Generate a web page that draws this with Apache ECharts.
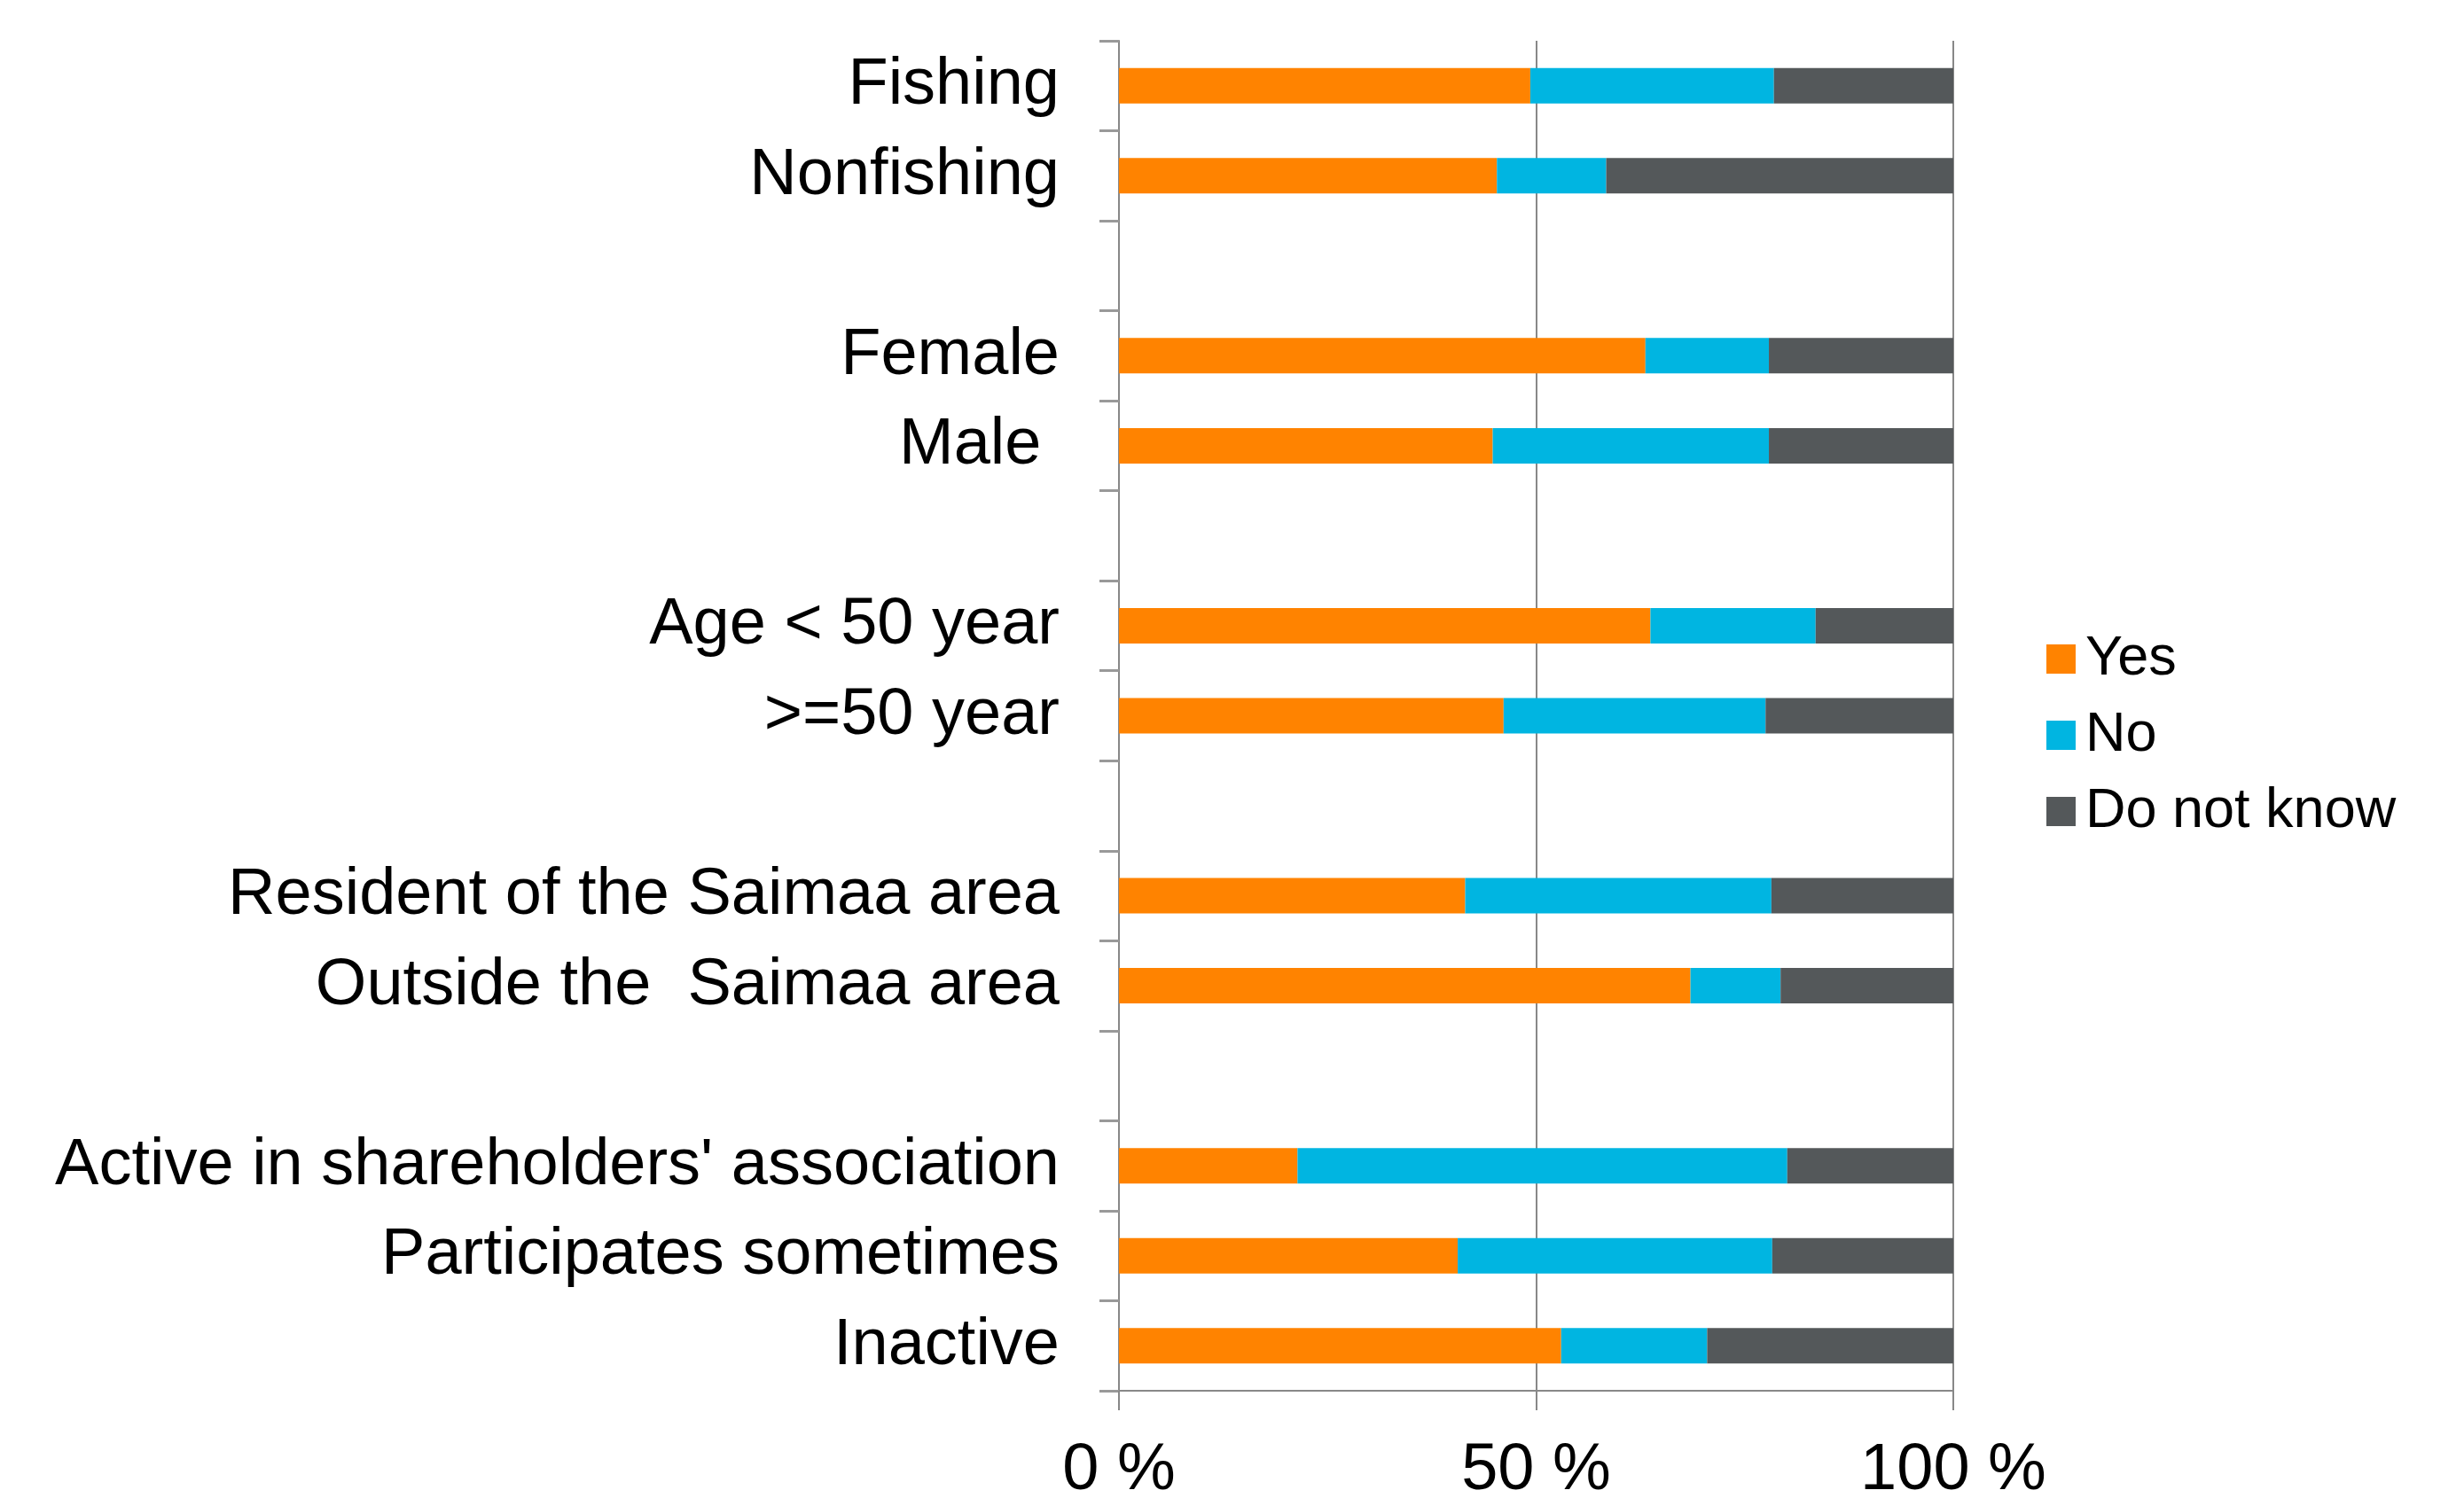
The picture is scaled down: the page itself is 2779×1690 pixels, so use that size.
<!DOCTYPE html>
<html>
<head>
<meta charset="utf-8">
<script src="https://cdn.jsdelivr.net/npm/echarts@6/dist/echarts.min.js"></script>
<style>
html,body{margin:0;padding:0;background:#fff;}
#chart{width:2779px;height:1690px;}
</style>
</head>
<body>
<div id="chart"></div>
<script>
var categories = ['Fishing','Nonfishing','','Female','Male ','','Age < 50 year','>=50 year','','Resident of the Saimaa area','Outside the  Saimaa area','',"Active in shareholders' association",'Participates sometimes','Inactive'];
var yesValues = [49.3, 45.3, null, 63.1, 44.8, null, 63.7, 46.1, null, 41.5, 68.5, null, 21.4, 40.6, 53.0];
var noValues  = [29.2, 13.1, null, 14.8, 33.1, null, 19.8, 31.4, null, 36.7, 10.8, null, 58.7, 37.7, 17.5];
var dkValues  = [21.5, 41.6, null, 22.1, 22.1, null, 16.5, 22.5, null, 21.8, 20.7, null, 19.9, 21.7, 29.5];
var seriesNames = ['Yes','No','Do not know'];
var xTicks = [0, 50, 100];

var colors = ['#FF8300','#00B5E1','#54585A'];
var font = '"Liberation Sans", Arial, sans-serif';
var chart = echarts.init(document.getElementById('chart'), null, {renderer:'canvas'});
var allData = [yesValues, noValues, dkValues];
chart.setOption({
  animation:false,
  backgroundColor:'#ffffff',
  color: colors,
  grid:{left:1262, right:576, top:46, bottom:121, containLabel:false, outerBoundsMode:'none'},
  legend:{
    orient:'vertical', left:2303, top:707,
    itemWidth:33, itemHeight:33, itemGap:23,
    icon:'rect',
    data: seriesNames,
    textStyle:{fontSize:63, color:'#000', fontFamily:font, padding:[0,0,0,6]}
  },
  xAxis:{
    type:'value', min:xTicks[0], max:xTicks[xTicks.length-1], interval:50,
    axisLine:{show:true, lineStyle:{color:'#888', width:2}},
    axisTick:{show:true, length:22, lineStyle:{color:'#888', width:2}},
    splitLine:{show:true, lineStyle:{color:'#888', width:2}},
    axisLabel:{fontSize:74, color:'#000', fontFamily:font, margin:54, formatter:'{value} %'}
  },
  yAxis:{
    type:'category', inverse:true, data:categories,
    axisLine:{show:true, lineStyle:{color:'#888', width:2}},
    axisTick:{show:true, length:22, interval:0, lineStyle:{color:'#999', width:3}},
    axisLabel:{fontSize:74, color:'#000', fontFamily:font, margin:67, interval:0, padding:[8,0,0,0]}
  },
  series: seriesNames.map(function(n,i){
    return {name:n, type:'bar', stack:'total', barWidth:40, data:allData[i], itemStyle:{color:colors[i]}};
  })
});
</script>
</body>
</html>
